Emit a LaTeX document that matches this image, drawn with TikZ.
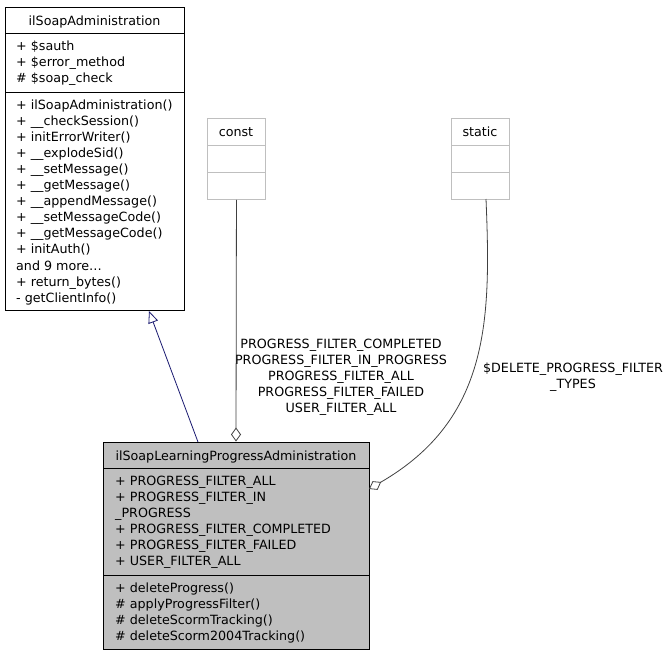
\documentclass[tikz,border=0pt]{standalone}
\usepackage{fontspec}
\setmainfont{DejaVu Sans}
\usetikzlibrary{arrows.meta}
\definecolor{edgeblue}{RGB}{25,25,112}
\definecolor{edgegray}{RGB}{64,64,64}
\definecolor{boxgray}{RGB}{191,191,191}
\begin{document}
\begin{tikzpicture}[x=1pt,y=-1pt,
  clsbox/.style={draw=black,line width=0.9pt,inner sep=0pt,anchor=north west},
  graybox/.style={draw=boxgray,line width=0.9pt,inner sep=0pt,anchor=north west},
  sepline/.style={line width=0.9pt},
  txt/.style={inner sep=0pt,anchor=base west,font=\fontsize{12.7}{15}\selectfont},
  ctxt/.style={inner sep=0pt,anchor=base,font=\fontsize{12.7}{15}\selectfont},
  inherit/.style={draw=edgeblue,line width=0.8pt,-{Triangle[open,length=12pt,width=10pt]}},
  aggr/.style={draw=edgegray,line width=0.8pt,{Diamond[open,length=14pt,width=10pt]}-}]
\useasboundingbox (0,0) rectangle (668,656);

% ---- base class ----
\node[clsbox,minimum width=179pt,minimum height=303pt] (base) at (5,7) {};
\draw[sepline] (base.west |- 0,33) -- (base.east |- 0,33);
\draw[sepline] (base.west |- 0,92) -- (base.east |- 0,92);
\node[ctxt] (basetitle) at (94.5,25) {ilSoapAdministration};
\node[txt] (pa1) at (16,50) {+ \$sauth};
\node[txt] (pa2) at (16,66.1) {+ \$error\_method};
\node[txt] (pa3) at (16,82.2) {\# \$soap\_check};
\foreach \t [count=\i from 0] in {%
  {+ ilSoapAdministration()},
  {+ \_\_checkSession()},
  {+ initErrorWriter()},
  {+ \_\_explodeSid()},
  {+ \_\_setMessage()},
  {+ \_\_getMessage()},
  {+ \_\_appendMessage()},
  {+ \_\_setMessageCode()},
  {+ \_\_getMessageCode()},
  {+ initAuth()},
  {and 9 more\ldots},
  {+ return\_bytes()},
  {- getClientInfo()}}
  \node[txt] (pm\i) at (16,109+16.1*\i) {\t};

% ---- const ----
\node[graybox,minimum width=58pt,minimum height=81pt] (const) at (207,118) {};
\draw[sepline,draw=boxgray] (const.west |- 0,145) -- (const.east |- 0,145);
\draw[sepline,draw=boxgray] (const.west |- 0,172) -- (const.east |- 0,172);
\node[ctxt] (consttitle) at (236,136) {const};

% ---- static ----
\node[graybox,minimum width=58pt,minimum height=81pt] (static) at (451,118) {};
\draw[sepline,draw=boxgray] (static.west |- 0,145) -- (static.east |- 0,145);
\draw[sepline,draw=boxgray] (static.west |- 0,172) -- (static.east |- 0,172);
\node[ctxt] (statictitle) at (480,136) {static};

% ---- child class ----
\node[clsbox,fill=boxgray,minimum width=266pt,minimum height=207pt] (child) at (103,442) {};
\draw[sepline] (child.west |- 0,468) -- (child.east |- 0,468);
\draw[sepline] (child.west |- 0,575) -- (child.east |- 0,575);
\node[ctxt] (childtitle) at (236,460) {ilSoapLearningProgressAdministration};
\foreach \t [count=\i from 0] in {%
  {+ PROGRESS\_FILTER\_ALL},
  {+ PROGRESS\_FILTER\_IN},
  {\_PROGRESS},
  {+ PROGRESS\_FILTER\_COMPLETED},
  {+ PROGRESS\_FILTER\_FAILED},
  {+ USER\_FILTER\_ALL}}
  \node[txt] (ca\i) at (115,485+16.1*\i) {\t};
\foreach \t [count=\i from 0] in {%
  {+ deleteProgress()},
  {\# applyProgressFilter()},
  {\# deleteScormTracking()},
  {\# deleteScorm2004Tracking()}}
  \node[txt] (cm\i) at (115,592+16.1*\i) {\t};

% ---- connectors ----
\coordinate (inhFrom) at (198,442);
\coordinate (inhTo) at (149,311);
\draw[inherit] (inhFrom) -- (inhTo);

\coordinate (agg1To) at (236,441.5);
\draw[aggr] (agg1To) -- (const.south);

\coordinate (agg2To) at (369,489);
\coordinate (agg2From) at (486,199);
\draw[aggr] (agg2To) .. controls (490,419) and (491,319) .. (agg2From);

% ---- edge labels ----
\node[ctxt] (l1) at (341,348) {PROGRESS\_FILTER\_COMPLETED};
\node[ctxt] (l2) at (341,364) {PROGRESS\_FILTER\_IN\_PROGRESS};
\node[ctxt] (l3) at (341,380) {PROGRESS\_FILTER\_ALL};
\node[ctxt] (l4) at (341,396) {PROGRESS\_FILTER\_FAILED};
\node[ctxt] (l5) at (341,412) {USER\_FILTER\_ALL};
\node[ctxt] (l6) at (573,372) {\$DELETE\_PROGRESS\_FILTER};
\node[ctxt] (l7) at (573,388) {\_TYPES};
\end{tikzpicture}
\end{document}
